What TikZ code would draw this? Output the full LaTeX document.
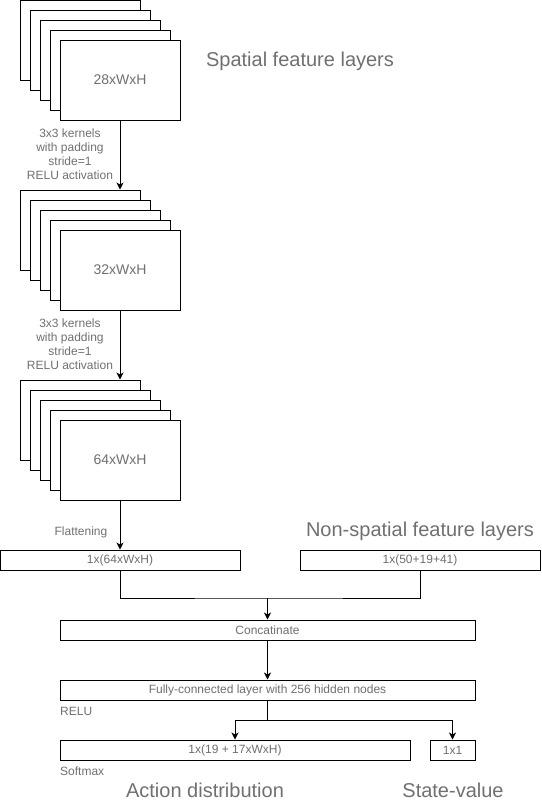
\documentclass[tikz,border=0pt]{standalone}
\usepackage{fontspec}
\setmainfont{Liberation Sans}
\usetikzlibrary{arrows.meta}
\definecolor{txt}{HTML}{707070}
\tikzset{
  layer/.style={draw=black, fill=white, line width=1pt, minimum width=120pt, minimum height=80pt, inner sep=0pt, text=txt, font=\fontsize{14}{16}\selectfont},
  vbox/.style={draw=black, fill=white, line width=1pt, minimum height=20pt, inner sep=0pt, text=txt, font=\fontsize{12}{14}\selectfont},
  small/.style={text=txt, font=\fontsize{12}{14}\selectfont, inner sep=0pt, align=center},
  big/.style={text=txt, font=\fontsize{20}{23}\selectfont, inner sep=0pt},
  conn/.style={line width=1pt, draw=black},
  arr/.style={conn, -{Stealth[length=7pt,width=7pt,inset=2pt]}}
}
\begin{document}
\begin{tikzpicture}[x=1pt,y=-1pt]
\useasboundingbox (0,0) rectangle (541,803);
% stack 1
\node[layer] (s1a) at (80,40) {};
\node[layer] (s1b) at (90,50) {};
\node[layer] (s1c) at (100,60) {};
\node[layer] (s1d) at (110,70) {};
\node[layer] (s1e) at (120,80) {28xWxH};
% stack 2
\node[layer] (s2a) at (80,230) {};
\node[layer] (s2b) at (90,240) {};
\node[layer] (s2c) at (100,250) {};
\node[layer] (s2d) at (110,260) {};
\node[layer] (s2e) at (120,270) {32xWxH};
% stack 3
\node[layer] (s3a) at (80,420) {};
\node[layer] (s3b) at (90,430) {};
\node[layer] (s3c) at (100,440) {};
\node[layer] (s3d) at (110,450) {};
\node[layer] (s3e) at (120,460) {64xWxH};
% labels
\node[big] (lsp) at (300,61) {Spatial feature layers};
\node[small] (k1) at (70,154) {3x3 kernels\\with padding\\stride=1\\RELU activation};
\node[small] (k2) at (70,344) {3x3 kernels\\with padding\\stride=1\\RELU activation};
\node[small] (lfl) at (81,532) {Flattening};
\node[big] (lns) at (420,531) {Non-spatial feature layers};
% vector boxes
\node[vbox, minimum width=240pt] (flat) at (120,560) {1x(64xWxH)};
\node[vbox, minimum width=240pt] (nons) at (420,560) {1x(50+19+41)};
\node[vbox, minimum width=415pt] (cat) at (267.5,630) {Concatinate};
\node[vbox, minimum width=415pt] (fc) at (267.5,690) {Fully-connected layer with 256 hidden nodes};
\node[small, anchor=west] (lrelu) at (60,711) {RELU};
\node[vbox, minimum width=350pt] (act) at (235,750) {1x(19 + 17xWxH)};
\node[vbox, minimum width=45pt] (val) at (452.5,750) {1x1};
\node[small, anchor=west] (lsm) at (60,771) {Softmax};
\node[big] (lad) at (205,790) {Action distribution};
\node[big] (lsv) at (453,790) {State-value};
% connectors
\draw[arr] (s1e.south) -- (s1e.south |- s2a.north);
\draw[arr] (s2e.south) -- (s2e.south |- s3a.north);
\draw[arr] (s3e.south) -- (flat.north);
\coordinate (j1) at (267.5,598);
\draw[conn] (flat.south) |- (j1) -| (nons.south);
\draw[arr] (j1) -- (cat.north);
\draw[arr] (cat.south) -- (fc.north);
\coordinate (j2) at (267.5,720);
\draw[conn] (fc.south) -- (j2);
\draw[arr] (j2) -| (act.north);
\draw[arr] (j2) -| (val.north);
\end{tikzpicture}
\end{document}
